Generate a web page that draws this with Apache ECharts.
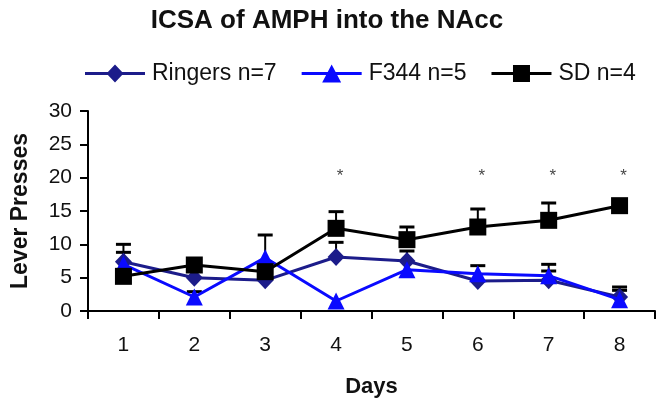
<!DOCTYPE html>
<html>
<head>
<meta charset="utf-8">
<script src="https://cdn.jsdelivr.net/npm/echarts@6/dist/echarts.min.js"></script>
<style>html,body{margin:0;padding:0;background:#fff}#c{width:660px;height:405px}</style>
</head>
<body>
<div id="c"></div>
<script>
var days = ['1','2','3','4','5','6','7','8'];
var ringers = [7.4, 5.0, 4.6, 8.1, 7.5, 4.5, 4.6, 2.1];
var ringersErr = [1.4, 0, 0, 2.2, 1.5, 2.3, 2.4, 1.5];
var f344 = [7.0, 2.1, 8.0, 1.5, 6.2, 5.6, 5.3, 1.7];
var f344Err = [3.0, 0.8, 3.4, 0, 0, 0, 0.7, 1.4];
var sd = [5.2, 6.9, 5.9, 12.4, 10.7, 12.6, 13.6, 15.8];
var sdErr = [0, 0.3, 0, 2.5, 1.9, 2.7, 2.6, 0];
var starDays = [3, 5, 6, 7];
var starLevel = 20.7;
var seriesNames = ['Ringers n=7', 'F344 n=5', 'SD n=4'];

var FONT = 'Liberation Sans, Arial, sans-serif';
var BAR = 'M0,7.5 H60 V10.5 H0 Z ';
var icons = [
  'path://' + BAR + 'M30,0 L38.5,9 L30,18 L21.5,9 Z',
  'path://' + BAR + 'M30,0 L39.5,18 L20.5,18 Z',
  'path://' + BAR + 'M21.5,0.5 H38.5 V17.5 H21.5 Z'
];

function errSeries(means, errs) {
  var d = [];
  for (var i = 0; i < means.length; i++) if (errs[i] > 0) d.push([i, means[i], means[i] + errs[i]]);
  return {
    type: 'custom', z: 1, silent: true,
    data: d,
    renderItem: function (params, api) {
      var p0 = api.coord([api.value(0), api.value(1)]);
      var p1 = api.coord([api.value(0), api.value(2)]);
      var hw = 7.5;
      return {
        type: 'group',
        children: [
          {type: 'line', shape: {x1: p0[0], y1: p0[1], x2: p1[0], y2: p1[1]}, style: {stroke: '#000', lineWidth: 2}},
          {type: 'line', shape: {x1: p1[0] - hw, y1: p1[1], x2: p1[0] + hw, y2: p1[1]}, style: {stroke: '#000', lineWidth: 3}}
        ]
      };
    }
  };
}

var chart = echarts.init(document.getElementById('c'));
chart.setOption({
  animation: false,
  backgroundColor: '#fff',
  title: {
    text: 'ICSA of AMPH into the NAcc',
    left: 327, top: 8, textAlign: 'center', padding: 0,
    textStyle: {fontFamily: FONT, fontSize: 26, fontWeight: 'bold', color: '#111'}
  },
  legend: {
    data: seriesNames.map(function (n, i) { return {name: n, icon: icons[i]}; }),
    left: 85, top: 62, padding: 0,
    itemWidth: 60, itemHeight: 18, itemGap: 25,
    textStyle: {fontFamily: FONT, fontSize: 23, color: '#111', padding: [0, 0, 0, 2]}
  },
  grid: {left: 88, right: 5, top: 111, bottom: 94},
  xAxis: {
    type: 'category', data: days, boundaryGap: true,
    name: 'Days', nameLocation: 'middle', nameGap: 65,
    nameTextStyle: {fontFamily: FONT, fontSize: 22, fontWeight: 'bold', color: '#111'},
    axisLine: {lineStyle: {color: '#000', width: 2}},
    axisTick: {show: true, length: 8, lineStyle: {color: '#000', width: 2}},
    axisLabel: {fontFamily: FONT, fontSize: 21, color: '#111', margin: 24}
  },
  yAxis: {
    type: 'value', min: 0, max: 30, interval: 5,
    name: 'Lever Presses', nameLocation: 'middle', nameGap: 56,
    nameTextStyle: {fontFamily: FONT, fontSize: 23, fontWeight: 'bold', color: '#111'},
    axisLine: {show: true, lineStyle: {color: '#000', width: 2}},
    axisTick: {show: true, length: 8, lineStyle: {color: '#000', width: 2}},
    axisLabel: {fontFamily: FONT, fontSize: 21, color: '#111', margin: 16},
    splitLine: {show: false}
  },
  series: [
    errSeries(ringers, ringersErr),
    errSeries(f344, f344Err),
    errSeries(sd, sdErr),
    {
      name: seriesNames[0], type: 'line', data: ringers, z: 3,
      symbol: 'diamond', symbolSize: [17, 18],
      lineStyle: {color: '#1c1c8a', width: 3},
      itemStyle: {color: '#1c1c8a'}
    },
    {
      name: seriesNames[1], type: 'line', data: f344, z: 4,
      symbol: 'triangle', symbolSize: [17, 17],
      lineStyle: {color: '#0a0aff', width: 3},
      itemStyle: {color: '#0a0aff'}
    },
    {
      name: seriesNames[2], type: 'line', data: sd, z: 5,
      symbol: 'rect', symbolSize: 17,
      lineStyle: {color: '#000', width: 3},
      itemStyle: {color: '#000'}
    },
    {
      type: 'scatter', z: 6, silent: true, symbolSize: 0,
      data: starDays.map(function (d) { return [d, starLevel]; }),
      label: {show: true, formatter: '*', position: 'inside', offset: [4, 3],
        fontFamily: FONT, fontSize: 17, color: '#111'}
    }
  ]
});
</script>
</body>
</html>
